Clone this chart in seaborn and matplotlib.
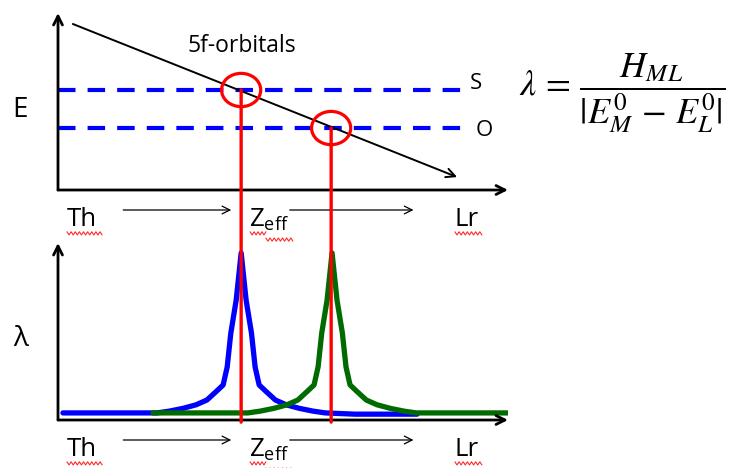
import numpy as np
import pandas as pd
import matplotlib
matplotlib.use("Agg")
import matplotlib.pyplot as plt
import seaborn as sns
from matplotlib.patches import Ellipse, ConnectionPatch

# ---------------- data ----------------
# top panel: 5f-orbital energy falling with Zeff, two ligand levels S and O
orbital_x = [0.33, 8.87]
orbital_E = [9.38, 0.73]
level_names = ["S", "O"]
level_E = [5.65, 3.5]
level_x_end = 8.98
cross_x = [4.07, 6.07]

# bottom panel: lambda curves (blue = S, green = O)
blue_x = [0.11, 2.20, 2.47, 2.78, 3.07, 3.31, 3.52, 3.67, 3.76, 3.84, 3.96, 4.07,
          4.18, 4.30, 4.38, 4.47, 4.62, 4.83, 5.07, 5.36, 5.67, 5.94, 6.60, 7.98]
blue_y = [0.40, 0.40, 0.50, 0.66, 0.86, 1.13, 1.62, 1.98, 3.00, 4.90, 6.78, 9.44,
          6.78, 4.90, 3.00, 1.98, 1.62, 1.13, 0.86, 0.66, 0.50, 0.40, 0.33, 0.33]
green_x = [2.11, 4.22, 4.49, 4.80, 5.09, 5.33, 5.54, 5.69, 5.78, 5.86, 5.98, 6.09,
           6.20, 6.32, 6.40, 6.49, 6.64, 6.85, 7.09, 7.38, 7.69, 7.96, 10.04]
green_y = [0.40, 0.40, 0.50, 0.66, 0.86, 1.13, 1.62, 1.98, 3.00, 4.90, 6.78, 9.44,
           6.78, 4.90, 3.00, 1.98, 1.62, 1.13, 0.86, 0.66, 0.50, 0.40, 0.40]

tick_pos = [0.53, 4.70, 9.07]
tick_labels = ["Th", r"Z$_{\mathregular{eff}}$", "Lr"]
row_arrows = [(1.45, 3.85), (5.15, 7.90)]
# spell-check squiggles under the row labels (x-span, y in data units)
squiggles = [(0.20, 0.98, -2.45), (4.27, 4.62, -2.45), (4.62, 5.22, -2.80),
             (8.82, 9.42, -2.45)]

# ---------------- style ----------------
sns.set_theme(style="white")
plt.rcParams["font.family"] = ["Open Sans", "DejaVu Sans"]
plt.rcParams.update({"text.color": "black", "xtick.color": "black",
                     "xtick.labelcolor": "black"})

fig = plt.figure(figsize=(7.35, 4.68), dpi=100)
W, H = 735.0, 468.0
ax_top = fig.add_axes([58 / W, (H - 190) / H, 450 / W, 177 / H])
ax_bot = fig.add_axes([58 / W, (H - 420) / H, 450 / W, 177 / H])

for ax in (ax_top, ax_bot):
    ax.set_xlim(0, 10)
    ax.set_ylim(0, 10)
    for s in ax.spines.values():
        s.set_visible(False)
    ax.set_yticks([])
    ax.set_xticks(tick_pos)
    ax.set_xticklabels(tick_labels, fontsize=18.5)
    ax.tick_params(axis="x", length=0, pad=12)
    ax.set_facecolor("none")
    # axis arrows
    ax.annotate("", xy=(0, 1), xytext=(0, 0), xycoords="axes fraction",
                arrowprops=dict(arrowstyle="->", lw=2.0, color="black",
                                mutation_scale=16, shrinkA=0, shrinkB=0))
    ax.annotate("", xy=(1.0, 0), xytext=(0, 0), xycoords="axes fraction",
                arrowprops=dict(arrowstyle="->", lw=2.0, color="black",
                                mutation_scale=16, shrinkA=0, shrinkB=0))
    for a0, a1 in row_arrows:
        ax.annotate("", xy=(a1, -1.13), xytext=(a0, -1.13), xycoords="data",
                    annotation_clip=False,
                    arrowprops=dict(arrowstyle="->", lw=0.9, color="black",
                                    mutation_scale=14, shrinkA=0, shrinkB=0))
    for x0, x1, yy in squiggles:
        n = int(round((x1 - x0) / 0.045))
        zx = np.linspace(x0, x1, n + 1)
        zy = yy + 0.09 * np.where(np.arange(n + 1) % 2 == 0, 1, -1)
        ax.plot(zx, zy, color="#ff2a2a", lw=0.8, clip_on=False)

# ---- top panel ----
label_dx = {"S": 9.16, "O": 9.29}
label_dy = {"S": 0.34, "O": -0.14}
for name, E in zip(level_names, level_E):
    ax_top.plot([0, level_x_end], [E, E], color="#0000ff", lw=3.0,
                dashes=(4.2, 2.9), solid_capstyle="butt", dash_capstyle="butt")
    ax_top.text(label_dx[name], E + label_dy[name], name, fontsize=16,
                va="center", ha="left", color="black")

ax_top.annotate("", xy=(orbital_x[1], orbital_E[1]),
                xytext=(orbital_x[0], orbital_E[0]),
                arrowprops=dict(arrowstyle="->", lw=1.4, color="black",
                                mutation_scale=16, shrinkA=0, shrinkB=0))
ax_top.text(4.09, 8.15, "5f-orbitals", fontsize=16.5, ha="center", va="center")
ax_top.text(-0.67, 4.5, "E", fontsize=20, ha="right", va="center")

for cx, E in zip(cross_x, level_E):
    ax_top.add_patch(Ellipse((cx, E), 0.87, 1.88, fill=False,
                             edgecolor="#ff0000", lw=2.3, zorder=5))

# ---- bottom panel ----
df = pd.concat([
    pd.DataFrame({"Zeff": blue_x, "lam": blue_y, "level": "S"}),
    pd.DataFrame({"Zeff": green_x, "lam": green_y, "level": "O"}),
])
sns.lineplot(data=df, x="Zeff", y="lam", hue="level", sort=False,
             palette={"S": "#0000ff", "O": "#006b00"}, lw=3.8,
             legend=False, ax=ax_bot, estimator=None)
ax_bot.set_xlabel("")
ax_bot.set_ylabel("")
ax_bot.set_xlim(0, 10)
ax_bot.set_ylim(0, 10)
ax_bot.text(-0.67, 4.6, "λ", fontsize=20, ha="right", va="center")

# red vertical connectors from the crossings down to the lambda axis
for cx, E in zip(cross_x, level_E):
    con = ConnectionPatch(xyA=(cx, E), coordsA=ax_top.transData,
                          xyB=(cx, -0.12), coordsB=ax_bot.transData,
                          color="#ff0000", lw=2.4, zorder=10)
    fig.add_artist(con)

# formula
fig.text(622 / W, 1 - 93 / H,
         r"$\lambda\, =\, \dfrac{H_{ML}}{|E_M^0\, -\, E_L^0|}$",
         fontsize=26, ha="center", va="center", math_fontfamily="stix")

fig.savefig("out.png", dpi=100)
